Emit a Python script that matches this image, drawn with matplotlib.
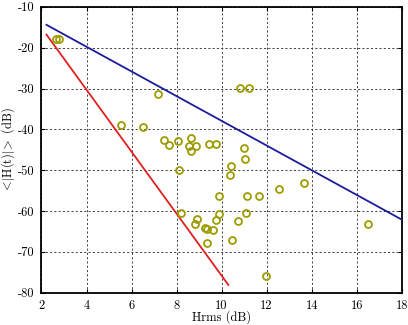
import matplotlib
matplotlib.use("Agg")
import matplotlib.pyplot as plt

hrms = [2.64, 2.79, 7.16, 5.52, 6.52, 7.46, 7.68, 8.08, 8.64, 8.55, 8.64, 8.88,
        9.44, 9.74, 10.82, 11.20, 10.98, 11.04, 10.42, 10.37, 8.09, 13.68, 12.55,
        9.90, 11.13, 11.65, 8.21, 9.87, 11.09, 8.91, 8.82, 9.74, 10.72, 9.25,
        9.34, 9.60, 9.35, 10.46, 16.52, 11.99]
hmean = [-17.9, -17.9, -31.4, -39.0, -39.4, -42.6, -43.8, -42.9, -42.1, -44.0,
         -45.3, -44.2, -43.7, -43.7, -29.8, -29.8, -44.6, -47.3, -48.9, -51.1,
         -49.9, -53.2, -54.6, -56.4, -56.3, -56.4, -60.5, -60.7, -60.5, -62.0,
         -63.2, -62.3, -62.4, -64.2, -64.3, -64.7, -67.8, -67.2, -63.2, -75.9]

blue_x = [2.22, 18.0]
blue_y = [-14.4, -62.1]
red_x = [2.22, 10.3]
red_y = [-16.8, -78.1]

xticks = [2, 4, 6, 8, 10, 12, 14, 16, 18]
yticks = [-80, -70, -60, -50, -40, -30, -20, -10]

plt.rcParams['font.family'] = 'serif'
plt.rcParams['font.serif'] = ['cmr10', 'DejaVu Serif']
plt.rcParams['mathtext.fontset'] = 'cm'
plt.rcParams['axes.unicode_minus'] = False
plt.rcParams['axes.formatter.use_mathtext'] = True

fig = plt.figure(figsize=(4.08, 3.25), dpi=100)
ax = fig.add_axes([0.1017, 0.0994, 0.8829, 0.8796])

ax.plot(blue_x, blue_y, color='#1c1c9c', lw=1.3, zorder=3)
ax.plot(red_x, red_y, color='#e02020', lw=1.3, zorder=3)
ax.plot(hrms, hmean, linestyle='none', marker='o', markersize=5.0,
        markerfacecolor='none', markeredgecolor='#9c9c00', markeredgewidth=1.3, zorder=4)

ax.set_xlim(2, 18)
ax.set_ylim(-80, -10)
ax.set_xticks(xticks)
ax.set_yticks(yticks)
ax.set_xticklabels([str(v) for v in xticks])
ax.set_yticklabels([str(v) for v in yticks])
ax.grid(True, color='#444444', linestyle=(0, (2.2, 2.2)), linewidth=0.7)
ax.tick_params(direction='in', length=3, width=0.8, top=True, right=True,
               labelsize=9, pad=5, colors='black')
for s in ax.spines.values():
    s.set_linewidth(1.3)
ax.set_xlabel('Hrms (dB)', fontsize=9, labelpad=-1)
ax.set_ylabel(r'$<\!|\mathrm{H(t)}|\!>$ (dB)', fontsize=9, labelpad=1)

fig.savefig('out.png', dpi=100)
